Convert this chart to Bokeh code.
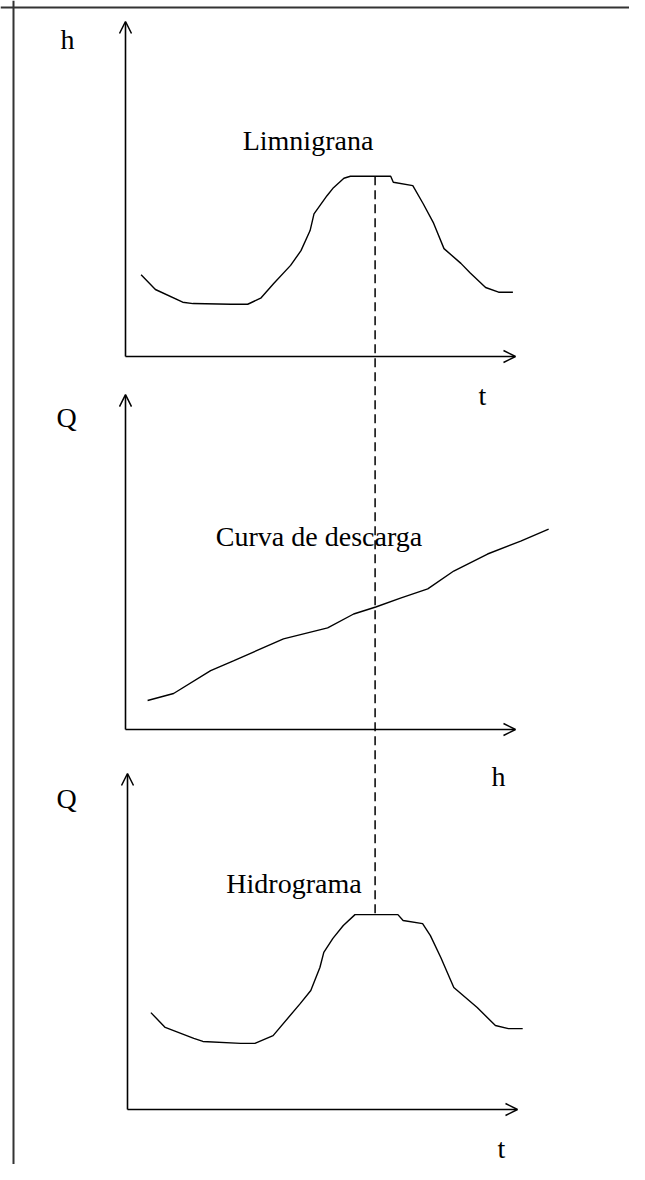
from bokeh.plotting import figure
from bokeh.models import Range1d, Arrow, OpenHead, Span
from bokeh.core.properties import value
from bokeh.embed import file_html
from bokeh.resources import INLINE

# ---------------- data ----------------
# Limnigrama: time t (h) vs stage h (m)
limni_t = [1.2, 2.3, 4.4, 5.2, 8.1, 9.4, 10.4, 11.4, 12.7, 13.5, 14.2, 14.5, 15.5, 16.0,
           16.8, 17.3, 20.4, 20.6, 22.1, 22.9, 23.7, 24.5, 25.8, 26.5, 27.7, 28.7, 29.8]
limni_h = [1.22, 1.00, 0.81, 0.79, 0.78, 0.78, 0.87, 1.09, 1.36, 1.58, 1.88, 2.13, 2.40, 2.52,
           2.66, 2.69, 2.69, 2.60, 2.55, 2.28, 1.99, 1.61, 1.39, 1.25, 1.03, 0.96, 0.96]

# Curva de descarga: stage h (m) vs discharge Q (m3/s)
rating_h = [0.34, 0.74, 1.31, 1.66, 2.43, 3.11, 3.51, 3.85, 4.23, 4.65, 5.05, 5.57, 6.08, 6.51]
rating_q = [10.4, 12.9, 21.1, 24.6, 32.5, 36.4, 41.4, 43.9, 47.1, 50.4, 56.8, 62.9, 67.5, 71.8]

# Hidrograma: time t (h) vs discharge Q (m3/s)
hydro_t = [1.8, 2.9, 5.1, 5.8, 8.7, 9.8, 11.2, 13.3, 14.1, 14.8, 15.1, 15.8, 16.6, 17.5,
           20.8, 21.2, 22.7, 23.3, 24.1, 25.1, 26.9, 28.3, 29.3, 30.4]
hydro_q = [34.6, 29.3, 25.4, 24.3, 23.6, 23.6, 26.4, 37.9, 42.5, 50.7, 56.1, 61.1, 65.7, 69.6,
           69.6, 67.5, 66.4, 62.1, 54.3, 43.6, 36.4, 30.0, 28.9, 28.9]

peak_time = 19.2  # time of the peak (h)

titles = ["Limnigrana", "Curva de descarga", "Hidrograma"]
x_labels = ["t", "h", "t"]
y_labels = ["h", "Q", "Q"]
x_axis_max = [30, 6, 30]
y_axis_max = [5, 120, 120]

# ---------------- layout ----------------
W, H = 629, 1164
# origin of each panel on the canvas (px) and px per data unit
panels = [
    dict(ox=125, oy=356, sx=13.0, sy=67.0),
    dict(ox=125, oy=729, sx=65.0, sy=2.79),
    dict(ox=127, oy=1109, sx=13.0, sy=2.8),
]
title_pos = [(307.5, 140), (318.5, 536), (293.5, 883)]
xlab_pos = [(482, 395), (498, 776), (501, 1148)]
ylab_pos = [(67, 39), (66, 417), (66, 798)]

p = figure(width=W, height=H, x_range=Range1d(0, W), y_range=Range1d(H, 0),
           output_backend="svg", toolbar_location=None,
           x_axis_location=None, y_axis_location=None, min_border=0)
p.grid.grid_line_color = None
p.outline_line_color = None
p.background_fill_color = "white"
p.border_fill_color = "white"

for i, pn in enumerate(panels):
    p.extra_x_ranges[f"x{i}"] = Range1d(-pn["ox"] / pn["sx"], (W - pn["ox"]) / pn["sx"])
    p.extra_y_ranges[f"y{i}"] = Range1d((pn["oy"] - H) / pn["sy"], pn["oy"] / pn["sy"])

# page border (left and top)
p.add_layout(Span(location=13, dimension="height", line_color="#333333", line_width=2))
p.add_layout(Span(location=7, dimension="width", line_color="#333333", line_width=2))

# axes with open arrow heads
for i in range(3):
    for (xe, ye) in [(0, y_axis_max[i]), (x_axis_max[i], 0)]:
        p.add_layout(Arrow(end=OpenHead(size=12, line_width=1.5, line_color="black"),
                           x_start=0, y_start=0, x_end=xe, y_end=ye,
                           line_color="black", line_width=1.6,
                           x_range_name=f"x{i}", y_range_name=f"y{i}"))

# curves
series = [(limni_t, limni_h), (rating_h, rating_q), (hydro_t, hydro_q)]
for i, (xs, ys) in enumerate(series):
    p.line(xs, ys, line_color="black", line_width=1.4,
           x_range_name=f"x{i}", y_range_name=f"y{i}")

# dashed line linking the peak of the limnigram to the peak of the hydrogram
h_top = max(limni_h)
canvas_y_q = panels[2]["oy"] - max(hydro_q) * panels[2]["sy"]
h_bottom = (panels[0]["oy"] - canvas_y_q) / panels[0]["sy"]
p.line([peak_time, peak_time], [h_top, h_bottom], line_color="black", line_width=1.5,
       line_dash="9 5", x_range_name="x0", y_range_name="y0")

# texts
font = value("Liberation Serif")
all_txt = titles + x_labels + y_labels
all_pos = title_pos + xlab_pos + ylab_pos
p.text(x=[a for a, b in all_pos], y=[b for a, b in all_pos], text=all_txt,
       text_font=font, text_font_size="28px", text_color="black",
       text_align="center", text_baseline="alphabetic")

open("out.html", "w").write(file_html(p, INLINE))
